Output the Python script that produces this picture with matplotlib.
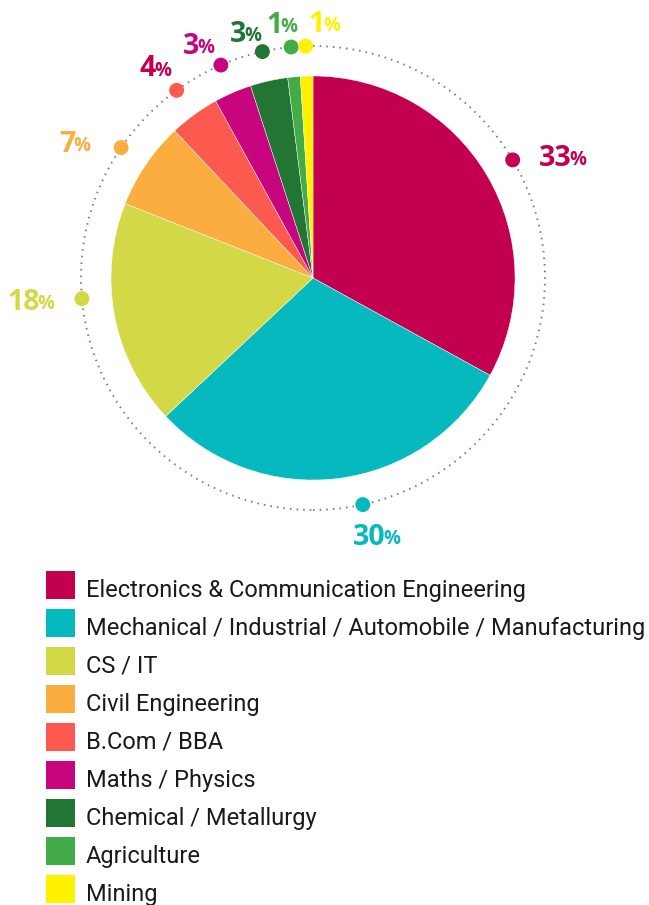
import numpy as np
import matplotlib.pyplot as plt
from matplotlib.patches import Circle, Rectangle

categories = [
    "Electronics & Communication Engineering",
    "Mechanical / Industrial / Automobile / Manufacturing",
    "CS / IT",
    "Civil Engineering",
    "B.Com / BBA",
    "Maths / Physics",
    "Chemical / Metallurgy",
    "Agriculture",
    "Mining",
]
shares = [33, 30, 18, 7, 4, 3, 3, 1, 1]
colors = ["#C2004F", "#06B9BE", "#D3D946", "#FBAD3F", "#FD5A4F",
          "#C6057F", "#227533", "#43AC49", "#FFF200"]
label_colors = ["#C2004F", "#06B9BE", "#D3D946", "#FBAD3F", "#C2004F",
                "#C6057F", "#227533", "#43AC49", "#FFF200"]

# small hand nudges of the label dots along the ring (degrees)
dot_nudge = [0, 5.2, -5.7, 0, 0, 0, 0, 0, 0]
# label offsets from the dot (pixels, x right / y down in image)
label_offsets = [(26, 6), (-10, 40), (-75, 11), (-62, 4), (-37, -14),
                 (-38, -11), (-33, -10), (-25, -14), (3, -14)]

W, H = 649, 905
fig = plt.figure(figsize=(W / 100, H / 100), dpi=100)
ax = fig.add_axes([0, 0, 1, 1])

cx, cy = 313, H - 278
r_pie, r_ring = 202, 232

wedges, _ = ax.pie(shares, colors=colors, startangle=90, counterclock=False,
                   center=(cx, cy), radius=r_pie,
                   wedgeprops=dict(edgecolor="white", linewidth=0.3))

ax.add_patch(Circle((cx, cy), r_ring, fill=False, edgecolor="#7f7f7f",
                    linewidth=1.4, linestyle=(0, (0.8, 2.6)), zorder=1))

total = sum(shares)
cum = np.cumsum(shares) - np.array(shares) / 2
mid = np.deg2rad(90 - 360 * cum / total + np.array(dot_nudge))
dx = cx + r_ring * np.cos(mid)
dy = cy + r_ring * np.sin(mid)
ax.scatter(dx, dy, s=115, c=colors, zorder=3, linewidths=0)

num_font = dict(family=["Open Sans", "DejaVu Sans"], weight="bold")
for i, v in enumerate(shares):
    ox, oy = label_offsets[i]
    t = ax.annotate(str(v), xy=(dx[i], dy[i]), xytext=(ox * 0.72, -oy * 0.72),
                    textcoords="offset points", ha="left", va="baseline",
                    fontsize=20.5, color=label_colors[i], **num_font)
    ax.annotate("%", xy=(1, 0), xycoords=t, xytext=(-1.2, 2),
                textcoords="offset points", ha="left", va="bottom",
                fontsize=13.5, color=label_colors[i], **num_font)

# legend: colour squares and names
leg_x, leg_top, row_h = 46, 571, 38
for i, name in enumerate(categories):
    top = leg_top + i * row_h
    ax.add_patch(Rectangle((leg_x, H - top - 28), 29, 28, color=colors[i], lw=0))
    ax.text(leg_x + 40, H - top - 26, name, ha="left", va="baseline",
            fontsize=17, color="#1a1a1a", family=["Roboto", "DejaVu Sans"])

ax.set_xlim(0, W)
ax.set_ylim(0, H)
ax.set_aspect("equal")
ax.axis("off")

fig.savefig("out.png", dpi=100)
